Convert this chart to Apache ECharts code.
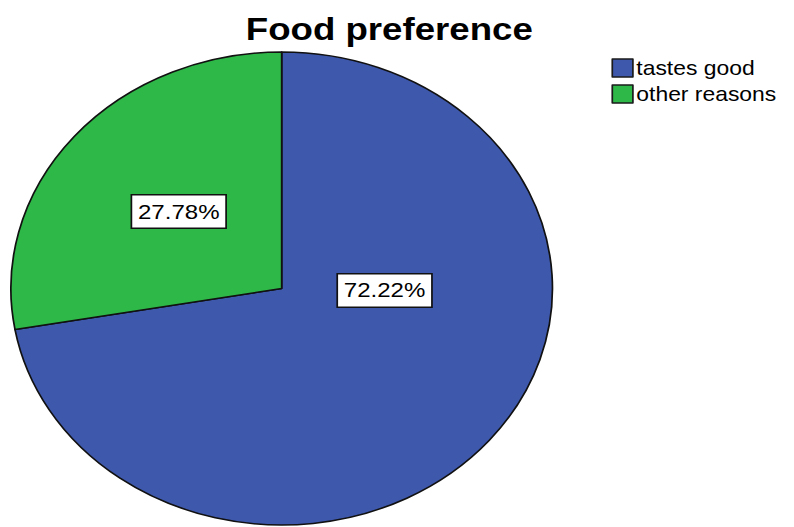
<!DOCTYPE html>
<html>
<head>
<meta charset="utf-8">
<script src="https://cdn.jsdelivr.net/npm/echarts@6/dist/echarts.min.js"></script>
<style>
  html, body { margin: 0; padding: 0; background: #fff; overflow: hidden; }
  #wrap { width: 794px; height: 527px; overflow: hidden; }
  /* the chart is laid out narrower, then widened so the pie reads as an ellipse */
  #chart { width: 694px; height: 527px; transform: scaleX(1.145); transform-origin: 0 0; }
</style>
</head>
<body>
<div id="wrap"><div id="chart"></div></div>
<script>
const categories = ['tastes good', 'other reasons'];
const percentages = [72.22, 27.78];
const sliceColors = ['#3E58AC', '#2EB848'];

const chart = echarts.init(document.getElementById('chart'), null, { renderer: 'svg' });

const font = '"Liberation Sans", Arial, sans-serif';

chart.setOption({
  animation: false,
  backgroundColor: '#ffffff',
  title: {
    text: 'Food preference',
    left: 335,
    textAlign: 'center',
    top: 8,
    textStyle: { fontFamily: font, fontSize: 32, fontWeight: 'bold', color: '#000' }
  },
  legend: {
    orient: 'vertical',
    left: 534,
    top: 58,
    padding: 0,
    itemWidth: 18,
    itemHeight: 18,
    itemGap: 6,
    icon: 'rect',
    itemStyle: { borderColor: '#1b1b1b', borderWidth: 1.5 },
    textStyle: { fontFamily: font, fontSize: 20, color: '#000', padding: [0, 0, 0, -2] },
    data: categories
  },
  series: [{
    type: 'pie',
    center: [246, 288.5],
    radius: 236.5,
    startAngle: 90,
    clockwise: true,
    itemStyle: { borderColor: '#111', borderWidth: 1.5 },
    label: {
      show: true,
      position: 'inside',
      formatter: p => p.value.toFixed(2) + '%',
      fontFamily: font,
      fontSize: 21,
      color: '#000',
      backgroundColor: '#fff',
      borderColor: '#111',
      borderWidth: 1.5,
      padding: [6, 5, 5, 5]
    },
    labelLayout: params => params.dataIndex === 0 ? { dx: -3, dy: -76 } : { dx: 3, dy: 1 },
    emphasis: { disabled: true },
    data: categories.map((name, i) => ({
      name: name,
      value: percentages[i],
      itemStyle: { color: sliceColors[i] }
    }))
  }]
});
</script>
</body>
</html>
